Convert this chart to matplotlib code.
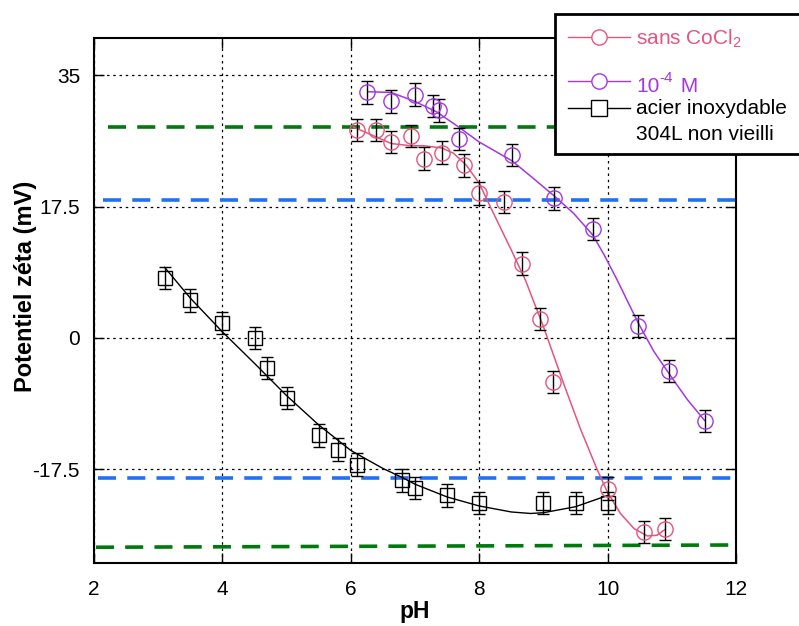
import numpy as np
import matplotlib
matplotlib.use("Agg")
import matplotlib.pyplot as plt
from matplotlib.lines import Line2D
from matplotlib.patches import Rectangle

plt.rcParams["font.family"] = ["Liberation Sans", "DejaVu Sans"]
plt.rcParams["mathtext.fontset"] = "custom"
plt.rcParams["mathtext.rm"] = "Liberation Sans"

# acier inoxydable 304L non vieilli (squares)
ph_acier = [3.1, 3.5, 4.0, 4.5, 4.7, 5.0, 5.5, 5.8, 6.1, 6.8, 7.0, 7.5, 8.0, 9.0, 9.5, 10.0]
zeta_acier = [8.0, 5.0, 2.0, 0.0, -4.0, -8.0, -13.0, -14.9, -16.9, -19.0, -20.0, -21.0, -22.0, -22.0, -22.0, -22.0]
fit_ph_acier = [3.1, 3.5, 4.0, 4.5, 5.0, 5.5, 6.0, 6.5, 6.8, 7.0, 7.5, 8.0, 8.5, 8.8, 9.0, 9.5, 10.0]
fit_zeta_acier = [9.4, 5.3, 0.8, -3.4, -7.7, -11.6, -15.0, -17.4, -18.6, -19.5, -21.2, -22.4, -23.2, -23.4, -23.3, -22.5, -21.0]

# sans CoCl2 (pink circles)
ph_sans = [6.10, 6.39, 6.63, 6.93, 7.14, 7.42, 7.76, 8.0, 8.38, 8.66, 8.95, 9.15, 10.0, 10.56, 10.9]
zeta_sans = [27.7, 27.7, 26.1, 26.9, 23.9, 24.7, 23.0, 19.25, 18.1, 9.9, 2.5, -5.9, -20.1, -25.9, -25.5]
fit_ph_sans = [6.04, 6.2, 6.39, 6.63, 6.93, 7.14, 7.42, 7.6, 7.8, 8.0, 8.2, 8.5, 8.72, 9.0, 9.32, 9.58, 9.84,
               10.0, 10.2, 10.41, 10.62, 10.77, 10.9]
fit_zeta_sans = [28.1, 27.5, 26.8, 25.9, 25.6, 25.6, 25.3, 24.6, 23.0, 20.6, 17.0, 11.7, 7.7, 1.5, -6.2, -12.2, -17.6,
                 -20.6, -23.4, -25.4, -26.4, -26.3, -25.5]

# 10^-4 M (purple circles)
ph_m4 = [6.25, 6.63, 7.0, 7.28, 7.38, 7.68, 8.51, 9.17, 9.77, 10.47, 10.96, 11.51]
zeta_m4 = [32.7, 31.5, 32.4, 30.9, 30.3, 26.5, 24.4, 18.6, 14.5, 1.56, -4.4, -11.1]
fit_ph_m4 = [6.28, 6.63, 7.0, 7.34, 7.68, 8.0, 8.51, 8.85, 9.17, 9.47, 9.77, 9.95, 10.15, 10.47, 10.72, 10.96, 11.24, 11.51]
fit_zeta_m4 = [32.8, 32.7, 31.5, 30.1, 28.1, 26.1, 23.6, 21.2, 18.9, 16.6, 13.7, 11.0, 7.7, 2.1, -1.8, -4.8, -8.2, -11.0]

err = 1.5

# horizontal dashed reference levels: (y_left, y_right, x_start, x_end)
green_top = (28.1, 28.1, 2.22, 9.2)
blue_top = (18.4, 18.4, 2.14, 11.98)
blue_bot = (-18.65, -18.65, 2.06, 11.98)
green_bot = (-27.9, -27.6, 2.03, 12.0)

pink = "#E4557F"
purple = "#A238E0"
green = "#007A0C"
blue = "#2172F2"

W, H = 799, 626
fig = plt.figure(figsize=(W / 100, H / 100), dpi=100)
ax = fig.add_axes([94 / W, 1 - 563 / H, (736 - 94) / W, (563 - 37.7) / H])

ax.set_xlim(2, 12)
ax.set_ylim(-30, 40)
ax.set_xticks([2, 4, 6, 8, 10, 12])
ax.set_yticks([-17.5, 0, 17.5, 35])
ax.set_yticklabels(["-17.5", "0", "17.5", "35"])
ax.grid(True, color="black", linestyle=(0, (2, 3)), linewidth=0.9)
ax.tick_params(direction="in", length=7, width=1, top=True, right=True,
               labelsize=15, pad=10)
ax.tick_params(axis="x", pad=12)
for sp in ax.spines.values():
    sp.set_linewidth(1.5)

for lv, col in [(green_top, green), (blue_top, blue), (blue_bot, blue), (green_bot, green)]:
    ax.plot([lv[2], lv[3]], [lv[0], lv[1]], color=col, lw=2.6,
            dashes=(5.0, 3.1), zorder=2, clip_on=False)

ax.plot(fit_ph_acier, fit_zeta_acier, color="black", lw=1, zorder=3)
ax.plot(fit_ph_sans, fit_zeta_sans, color=pink, lw=1.1, zorder=3)
ax.plot(fit_ph_m4, fit_zeta_m4, color=purple, lw=1.1, zorder=3)

ax.errorbar(ph_acier, zeta_acier, yerr=err, fmt="s", ms=10.5, mfc="none", mec="black",
            mew=1, ecolor="black", elinewidth=1, capsize=4, zorder=4)
ax.errorbar(ph_sans, zeta_sans, yerr=err, fmt="o", ms=11, mfc="none", mec=pink,
            mew=1, ecolor="black", elinewidth=1, capsize=4, zorder=4)
ax.errorbar(ph_m4, zeta_m4, yerr=err, fmt="o", ms=11, mfc="none", mec=purple,
            mew=1, ecolor="black", elinewidth=1, capsize=4, zorder=4)

ax.set_xlabel("pH", fontsize=16.5, fontweight="bold", labelpad=1)


def fx(px):
    return px / W


def fy(py):
    return 1 - py / H


fig.text(fx(26), fy(286), "Potentiel zéta (mV)", rotation=90, fontsize=17,
         fontweight="bold", ha="center", va="center")

# legend box drawn in figure pixels
fig.add_artist(Rectangle((fx(555), fy(154)), fx(810) - fx(555), fy(14) - fy(154),
                         transform=fig.transFigure, facecolor="white",
                         edgecolor="black", lw=2, zorder=5, clip_on=False))
entries = [(37, pink, "o"), (81, purple, "o"), (108, "black", "s")]
for ly, col, mk in entries:
    fig.add_artist(Line2D([fx(568), fx(630)], [fy(ly), fy(ly)], color=col, lw=1,
                          transform=fig.transFigure, zorder=6))
    fig.add_artist(Line2D([fx(599)], [fy(ly)], marker=mk, ms=11, mfc="white", mec=col,
                          mew=1, transform=fig.transFigure, zorder=7))
fig.text(fx(636), fy(39), r"sans CoCl$_{\mathregular{2}}$", color=pink, fontsize=15,
         va="center", ha="left", zorder=8)
fig.text(fx(636), fy(86), "10", color=purple, fontsize=15, va="center", ha="left", zorder=8)
fig.text(fx(659), fy(78), "-4", color=purple, fontsize=11, va="center", ha="left", zorder=8)
fig.text(fx(675), fy(86), " M", color=purple, fontsize=15, va="center", ha="left", zorder=8)
fig.text(fx(636), fy(108), "acier inoxydable", color="black", fontsize=15,
         va="center", ha="left", zorder=8)
fig.text(fx(636), fy(135), "304L non vieilli", color="black", fontsize=15,
         va="center", ha="left", zorder=8)

fig.savefig("out.png", dpi=100)
